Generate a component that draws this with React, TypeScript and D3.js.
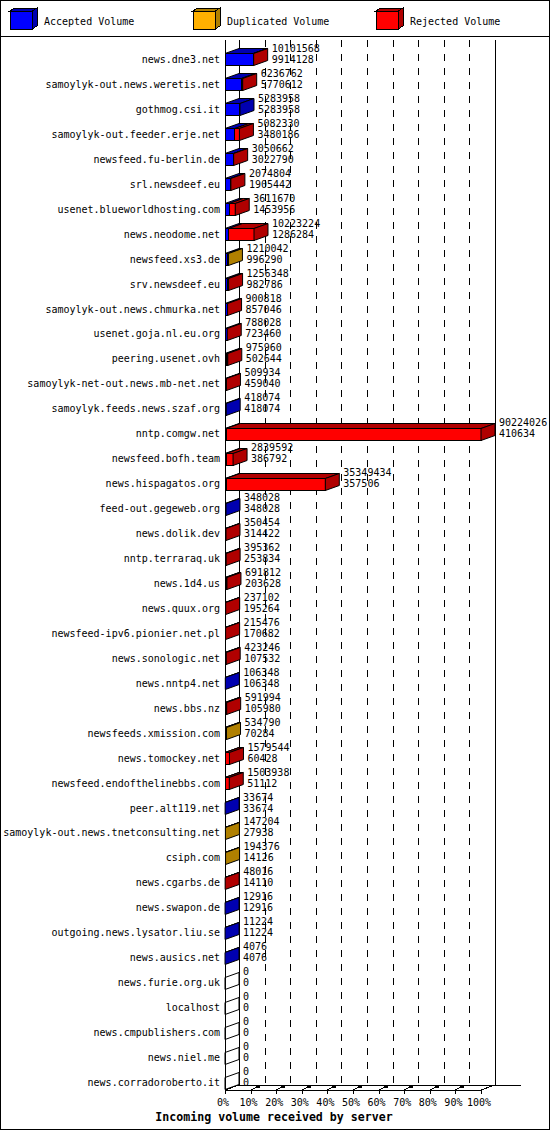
import React, { useEffect, useRef } from 'react';
import * as d3 from 'd3';

const hosts = [
  'news.dne3.net',
  'samoylyk-out.news.weretis.net',
  'gothmog.csi.it',
  'samoylyk-out.feeder.erje.net',
  'newsfeed.fu-berlin.de',
  'srl.newsdeef.eu',
  'usenet.blueworldhosting.com',
  'news.neodome.net',
  'newsfeed.xs3.de',
  'srv.newsdeef.eu',
  'samoylyk-out.news.chmurka.net',
  'usenet.goja.nl.eu.org',
  'peering.usenet.ovh',
  'samoylyk-net-out.news.mb-net.net',
  'samoylyk.feeds.news.szaf.org',
  'nntp.comgw.net',
  'newsfeed.bofh.team',
  'news.hispagatos.org',
  'feed-out.gegeweb.org',
  'news.dolik.dev',
  'nntp.terraraq.uk',
  'news.1d4.us',
  'news.quux.org',
  'newsfeed-ipv6.pionier.net.pl',
  'news.sonologic.net',
  'news.nntp4.net',
  'news.bbs.nz',
  'newsfeeds.xmission.com',
  'news.tomockey.net',
  'newsfeed.endofthelinebbs.com',
  'peer.alt119.net',
  'samoylyk-out.news.tnetconsulting.net',
  'csiph.com',
  'news.cgarbs.de',
  'news.swapon.de',
  'outgoing.news.lysator.liu.se',
  'news.ausics.net',
  'news.furie.org.uk',
  'localhost',
  'news.cmpublishers.com',
  'news.niel.me',
  'news.corradoroberto.it',
];

const accepted = [
  9914128, 5770612, 5283958, 3480186, 3022790, 1905442, 1453956, 1286284, 996290, 982786,
  857046, 723460, 502644, 459040, 418074, 410634, 386792, 357506, 348028, 314422,
  253834, 203628, 195264, 170682, 107532, 106348, 105980, 70284, 60428, 51112,
  33674, 27938, 14126, 14110, 12916, 11224, 4076, 0, 0, 0, 0, 0,
];

const duplicated = [
  0, 0, 0, 0, 0, 0, 0, 0, 213752, 0,
  0, 0, 0, 0, 0, 0, 0, 0, 0, 0,
  0, 0, 0, 0, 0, 0, 0, 464506, 0, 0,
  0, 119266, 180250, 0, 0, 0, 0, 0, 0, 0, 0, 0,
];

const rejected = [
  187440, 466150, 0, 1602144, 27872, 169362, 2157714, 8936940, 0, 273562,
  43772, 64568, 473316, 50894, 0, 89813392, 2452800, 34991928, 0, 36032,
  141528, 488184, 41838, 44794, 315714, 0, 486014, 0, 1519116, 1452826,
  0, 0, 0, 33906, 0, 0, 0, 0, 0, 0, 0, 0,
];

const seriesNames = ['Accepted Volume', 'Duplicated Volume', 'Rejected Volume'];
const percentTicks = [0, 10, 20, 30, 40, 50, 60, 70, 80, 90, 100];

const frontColors = ['#0000ff', '#ffb000', '#ff0000'];
const darkColors = ['#0000b0', '#b08000', '#b00000'];

const FONT = "'DejaVu Sans Mono', monospace";
const DX = 14;
const DY = 5;

const App: React.FC = () => {
  const svgRef = useRef<SVGSVGElement>(null);

  useEffect(() => {
    if (svgRef && svgRef.current) {
      drawChart(svgRef.current);
    }
  }, [svgRef]);

  return (
    <svg
      ref={svgRef}
      width={550}
      height={1130}
      style={{ position: 'absolute', left: 0, top: 0, background: '#fff' }}
    />
  );
};

const pts = (p: [number, number][]) => p.map((d) => d.join(',')).join(' ');

const drawChart = (el: SVGSVGElement) => {
  const svg = d3.select(el);
  svg.selectAll('*').remove();
  svg.attr('shape-rendering', 'crispEdges');

  const frontLeft = 225;
  const frontRight = 481;
  const floorY = 1090;
  const topY = 40;

  const series = [accepted, duplicated, rejected];
  const totals = hosts.map((_, i) => accepted[i] + duplicated[i] + rejected[i]);

  const xScale = d3
    .scaleLinear()
    .domain([0, d3.max(totals) || 1])
    .range([frontLeft, frontRight]);
  const pctScale = d3.scaleLinear().domain([0, 100]).range([frontLeft, frontRight]);
  const yScale = d3.scalePoint().domain(hosts).range([59.5, 1082.5]);

  // frame + legend
  svg
    .append('rect')
    .attr('x', 0.5)
    .attr('y', 0.5)
    .attr('width', 549)
    .attr('height', 1129)
    .attr('fill', '#fff')
    .attr('stroke', '#000');
  svg.append('line').attr('x1', 0).attr('x2', 550).attr('y1', 36.5).attr('y2', 36.5).attr('stroke', '#000');

  const legendX = [10, 193, 376];
  seriesNames.forEach((name, i) => {
    const x0 = legendX[i];
    const g = svg.append('g');
    g.append('polygon')
      .attr('points', pts([[x0, 11], [x0 + 5, 8], [x0 + 27, 8], [x0 + 22, 11]]))
      .attr('fill', darkColors[i])
      .attr('stroke', '#000');
    g.append('polygon')
      .attr('points', pts([[x0 + 22, 11], [x0 + 27, 8], [x0 + 27, 26], [x0 + 22, 29]]))
      .attr('fill', darkColors[i])
      .attr('stroke', '#000');
    g.append('rect')
      .attr('x', x0)
      .attr('y', 11)
      .attr('width', 22)
      .attr('height', 18)
      .attr('fill', frontColors[i])
      .attr('stroke', '#000');
    g.append('text')
      .attr('x', x0 + 34)
      .attr('y', 21)
      .attr('dominant-baseline', 'central')
      .style('font-family', FONT)
      .style('font-size', '10px')
      .text(name);
  });

  // grid on the back wall
  percentTicks.slice(1, -1).forEach((p) => {
    svg
      .append('line')
      .attr('x1', pctScale(p) + DX + 0.5)
      .attr('x2', pctScale(p) + DX + 0.5)
      .attr('y1', topY)
      .attr('y2', floorY - DY)
      .attr('stroke', '#000')
      .attr('stroke-dasharray', '7,7');
  });

  const axes = svg.append('g').attr('stroke', '#000').attr('fill', 'none');
  axes.append('line').attr('x1', frontLeft + 0.5).attr('x2', frontLeft + 0.5).attr('y1', topY).attr('y2', floorY);
  axes.append('line').attr('x1', frontLeft + DX + 0.5).attr('x2', frontLeft + DX + 0.5).attr('y1', topY).attr('y2', floorY - DY);
  axes.append('line').attr('x1', frontRight + DX + 0.5).attr('x2', frontRight + DX + 0.5).attr('y1', topY).attr('y2', floorY - DY);
  axes.append('line').attr('x1', frontLeft + DX).attr('x2', 521).attr('y1', floorY - DY + 0.5).attr('y2', floorY - DY + 0.5);
  axes.append('line').attr('x1', frontLeft).attr('x2', frontRight).attr('y1', floorY + 0.5).attr('y2', floorY + 0.5);
  axes.append('line').attr('x1', frontLeft).attr('x2', frontLeft + DX).attr('y1', floorY).attr('y2', floorY - DY);
  axes.append('line').attr('x1', frontRight).attr('x2', frontRight + DX).attr('y1', floorY).attr('y2', floorY - DY);

  percentTicks.forEach((p, k) => {
    const xf = Math.round(pctScale(p)) + 0.5;
    axes.append('line').attr('x1', xf).attr('x2', xf).attr('y1', floorY).attr('y2', floorY + 4);
    if (k > 0 && k < percentTicks.length - 1) {
      axes.append('line').attr('x1', xf).attr('x2', xf + 5).attr('y1', floorY).attr('y2', floorY - 3);
      axes.append('rect').attr('x', xf + 5).attr('y', floorY - 4).attr('width', 3).attr('height', 1).attr('fill', '#000');
    }
    svg
      .append('text')
      .attr('x', pctScale(p) - 2)
      .attr('y', 1102)
      .attr('text-anchor', 'middle')
      .attr('dominant-baseline', 'central')
      .style('font-family', FONT)
      .style('font-size', '10px')
      .text(`${p}%`);
  });

  // bars
  hosts.forEach((host, i) => {
    const y = yScale(host) || 0;
    const yt = Math.round(y - 6) + 0.5;
    const yb = Math.round(y + 6) + 0.5;
    const g = svg.append('g').attr('stroke', '#000');
    let cum = 0;
    let last = -1;
    series.forEach((values, s) => {
      const v = values[i];
      if (v <= 0) return;
      const x0 = xScale(cum);
      const x1 = xScale(cum + v);
      g.append('rect')
        .attr('x', x0)
        .attr('y', yt)
        .attr('width', x1 - x0)
        .attr('height', yb - yt)
        .attr('fill', frontColors[s]);
      g.append('polygon')
        .attr('points', pts([[x0, yt], [x0 + DX, yt - DY], [x1 + DX, yt - DY], [x1, yt]]))
        .attr('fill', darkColors[s])
        .attr('shape-rendering', 'auto');
      cum += v;
      last = s;
    });
    const xe = xScale(totals[i]);
    g.append('polygon')
      .attr('points', pts([[xe, yt], [xe + DX, yt - DY], [xe + DX, yb - DY], [xe, yb]]))
      .attr('fill', last >= 0 ? darkColors[last] : 'none')
      .attr('shape-rendering', 'auto');

    svg
      .append('text')
      .attr('x', 220)
      .attr('y', y)
      .attr('text-anchor', 'end')
      .attr('dominant-baseline', 'central')
      .style('font-family', FONT)
      .style('font-size', '10px')
      .text(host);

    const labels = svg
      .append('g')
      .style('font-family', FONT)
      .style('font-size', '10px')
      .attr('dominant-baseline', 'central');
    labels.append('text').attr('x', xe + 18).attr('y', y - 11).text(String(totals[i]));
    labels.append('text').attr('x', xe + 18).attr('y', y).text(String(accepted[i]));
  });

  svg
    .append('text')
    .attr('x', 274)
    .attr('y', 1117)
    .attr('text-anchor', 'middle')
    .attr('dominant-baseline', 'central')
    .style('font-family', FONT)
    .style('font-size', '11.6px')
    .style('font-weight', 'bold')
    .text('Incoming volume received by server');
};

export default App;
